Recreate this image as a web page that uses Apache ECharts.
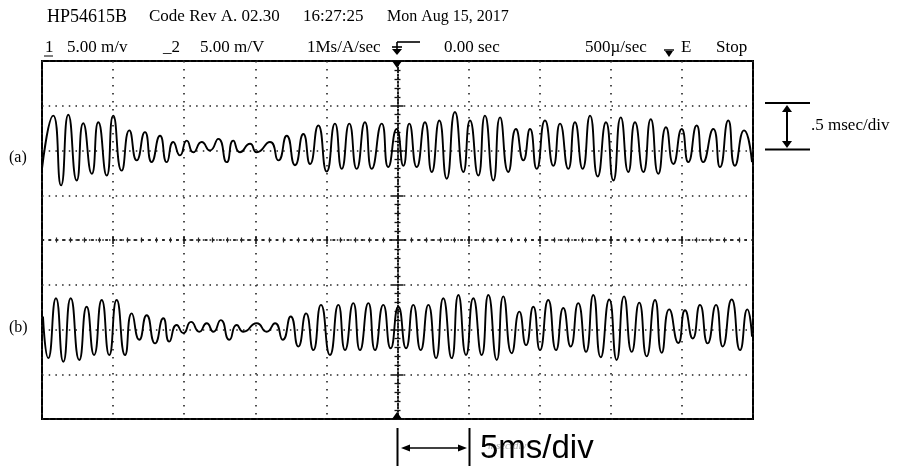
<!DOCTYPE html>
<html>
<head>
  <meta charset="UTF-8">
  <title>HP54615B</title>
  <style>
    body { margin: 0; padding: 0; background: #fff; }
    #scope { width: 899px; height: 466px; }
  </style>
</head>
<body>
  <div id="scope"></div>
  <script src="https://cdn.jsdelivr.net/npm/echarts@6/dist/echarts.min.js"></script>
  <script>
    // time in ms (500us/div, trigger at 0), value in divisions around each trace's centre
    var tA = [-2.5, -2.421, -2.366, -2.315, -2.256, -2.210, -2.150, -2.104, -2.045, -1.999,
      -1.940, -1.886, -1.834, -1.776, -1.729, -1.670, -1.623, -1.577, -1.530, -1.482,
      -1.436, -1.377, -1.319, -1.260, -1.201, -1.155, -1.108, -1.037, -0.990, -0.897,
      -0.838, -0.779, -0.721, -0.662, -0.615, -0.557, -0.498, -0.440, -0.392, -0.339,
      -0.287, -0.229, -0.181, -0.111, -0.065, -0.006, 0.041, 0.083, 0.135, 0.193,
      0.241, 0.294, 0.346, 0.404, 0.463, 0.510, 0.568, 0.615, 0.674, 0.721,
      0.779, 0.833, 0.885, 0.932, 0.979, 1.037, 1.096, 1.143, 1.201, 1.248,
      1.302, 1.354, 1.408, 1.466, 1.518, 1.570, 1.623, 1.670, 1.729, 1.781,
      1.834, 1.888, 1.940, 1.999, 2.045, 2.104, 2.150, 2.221, 2.268, 2.326,
      2.373, 2.437, 2.493];
    var vA = [-0.41, 0.78, -0.78, 0.80, -0.67, 0.61, -0.52, 0.63, -0.56, 0.78,
      -0.45, 0.45, -0.22, 0.41, -0.26, 0.33, -0.26, 0.19, -0.11, 0.22,
      -0.04, 0.19, 0, 0.26, -0.26, 0.22, -0.04, 0.15, -0.04, 0.19,
      -0.22, 0.33, -0.33, 0.37, -0.30, 0.56, -0.47, 0.60, -0.41, 0.60,
      -0.41, 0.63, -0.41, 0.60, -0.37, 0.48, -0.34, 0.60, -0.37, 0.63,
      -0.48, 0.67, -0.63, 0.86, -0.48, 0.67, -0.56, 0.78, -0.67, 0.74,
      -0.48, 0.48, -0.22, 0.48, -0.41, 0.67, -0.34, 0.60, -0.41, 0.63,
      -0.41, 0.78, -0.58, 0.63, -0.67, 0.74, -0.48, 0.63, -0.48, 0.70,
      -0.52, 0.52, -0.30, 0.48, -0.26, 0.56, -0.26, 0.48, -0.37, 0.67,
      -0.34, 0.45, -0.26];

    var tB = [-2.493, -2.456, -2.402, -2.350, -2.298, -2.238, -2.186, -2.134, -2.080, -2.027,
      -1.975, -1.916, -1.869, -1.816, -1.764, -1.705, -1.647, -1.605, -1.553, -1.506,
      -1.452, -1.394, -1.342, -1.295, -1.243, -1.183, -1.131, -1.084, -0.990, -0.920,
      -0.861, -0.807, -0.751, -0.698, -0.643, -0.592, -0.538, -0.475, -0.416, -0.369,
      -0.311, -0.264, -0.205, -0.158, -0.100, -0.048, 0.006, 0.060, 0.111, 0.163,
      0.217, 0.271, 0.322, 0.381, 0.428, 0.482, 0.533, 0.592, 0.639, 0.698,
      0.744, 0.803, 0.857, 0.904, 0.955, 1.002, 1.060, 1.115, 1.166, 1.218,
      1.271, 1.326, 1.377, 1.429, 1.489, 1.541, 1.593, 1.647, 1.700, 1.752,
      1.811, 1.858, 1.911, 1.975, 2.022, 2.076, 2.127, 2.181, 2.240, 2.287,
      2.350, 2.409, 2.460, 2.493];
    var vB = [0.29, -0.64, 0.70, -0.72, 0.70, -0.68, 0.51, -0.57, 0.66, -0.57,
      0.66, -0.57, 0.36, -0.23, 0.32, -0.31, 0.25, -0.27, 0.10, -0.08,
      0.17, -0.05, 0.14, -0.05, 0.21, -0.23, 0.10, -0.05, 0.14, -0.05,
      0.14, -0.23, 0.29, -0.38, 0.36, -0.46, 0.55, -0.57, 0.55, -0.46,
      0.59, -0.46, 0.59, -0.46, 0.55, -0.42, 0.51, -0.42, 0.55, -0.46,
      0.55, -0.64, 0.70, -0.64, 0.77, -0.57, 0.70, -0.57, 0.77, -0.68,
      0.74, -0.53, 0.40, -0.35, 0.51, -0.46, 0.66, -0.46, 0.48, -0.38,
      0.59, -0.50, 0.77, -0.62, 0.67, -0.68, 0.74, -0.50, 0.60, -0.60,
      0.66, -0.52, 0.45, -0.30, 0.43, -0.20, 0.55, -0.31, 0.55, -0.38,
      0.67, -0.46, 0.45, -0.16];

    var offsetA = 2, offsetB = -2;   // trace centres, in divisions from screen centre

    var chart = echarts.init(document.getElementById('scope'));

    function pairs(t, v, off) {
      return t.map(function (x, i) { return [x, v[i] + off]; });
    }

    var serif = '"Liberation Serif", "Times New Roman", serif';
    function txt(x, y, s, size, extra) {
      var st = { text: s, font: (size || 17) + 'px ' + serif, fill: '#000', verticalAlign: 'middle' };
      if (extra) for (var k in extra) st[k] = extra[k];
      return { type: 'text', x: x, y: y, style: st, z: 10 };
    }
    function seg(x1, y1, x2, y2, w) {
      return { type: 'line', shape: { x1: x1, y1: y1, x2: x2, y2: y2 }, style: { stroke: '#000', lineWidth: w || 1.5 }, z: 10 };
    }
    function tri(pts) {
      return { type: 'polygon', shape: { points: pts }, style: { fill: '#000' }, z: 10 };
    }

    var gridDots = { color: '#222', width: 1.6 };
    var xAxisBase = {
      type: 'value', min: -2.5, max: 2.5, interval: 0.5,
      axisLabel: { show: false }
    };
    var yAxisBase = {
      type: 'value', min: -4, max: 4, interval: 1,
      axisLabel: { show: false }
    };

    var option = {
      animation: false,
      grid: { left: 42, top: 61, width: 711, height: 358, show: true, borderColor: '#000', borderWidth: 2, backgroundColor: 'transparent' },
      xAxis: [
        Object.assign({}, xAxisBase, {
          position: 'bottom',
          axisLine: { onZero: true, onZeroAxisIndex: 0, lineStyle: { color: '#222', width: 1.5, type: [1.5, 5.6] } },
          axisTick: { show: true, length: 4, lineStyle: { color: '#111', width: 1.5 } },
          minorTick: { show: true, splitNumber: 5, length: 2.5, lineStyle: { color: '#222', width: 1.2 } },
          splitLine: { show: true, lineStyle: Object.assign({ type: [1.5, 6.5] }, gridDots) }
        }),
        Object.assign({}, xAxisBase, {
          position: 'bottom',
          axisLine: { onZero: true, onZeroAxisIndex: 0, lineStyle: { color: '#222', width: 1.5, type: [1.5, 5.6] } },
          axisTick: { show: true, inside: true, length: 4, lineStyle: { color: '#111', width: 1.5 } },
          minorTick: { show: true, splitNumber: 5, length: 2.5, lineStyle: { color: '#222', width: 1.2 } },
          splitLine: { show: false }
        })
      ],
      yAxis: [
        Object.assign({}, yAxisBase, {
          position: 'left',
          axisLine: { onZero: true, onZeroAxisIndex: 0, lineStyle: { color: '#111', width: 1.5, type: [1.5, 2] } },
          axisTick: { show: true, length: 6, lineStyle: { color: '#111', width: 1.5 } },
          minorTick: { show: true, splitNumber: 5, length: 3, lineStyle: { color: '#111', width: 1.3 } },
          splitLine: { show: true, lineStyle: Object.assign({ type: [1.5, 5.2] }, gridDots) }
        }),
        Object.assign({}, yAxisBase, {
          position: 'left',
          axisLine: { onZero: true, onZeroAxisIndex: 0, lineStyle: { color: '#111', width: 1.5, type: [1.5, 2] } },
          axisTick: { show: true, inside: true, length: 6, lineStyle: { color: '#111', width: 1.5 } },
          minorTick: { show: true, splitNumber: 5, length: 3, lineStyle: { color: '#111', width: 1.3 } },
          splitLine: { show: false }
        })
      ],
      series: [
        { name: '(a)', type: 'line', data: pairs(tA, vA, offsetA), smooth: 0.6, showSymbol: false,
          lineStyle: { color: '#000', width: 1.9 } },
        { name: '(b)', type: 'line', data: pairs(tB, vB, offsetB), smooth: 0.6, showSymbol: false,
          lineStyle: { color: '#000', width: 1.9 } }
      ],
      graphic: [
        // header lines
        txt(47, 17, 'HP54615B', 18),
        txt(149, 17, 'Code Rev A. 02.30'),
        txt(303, 17, '16:27:25'),
        txt(387, 17, 'Mon Aug 15, 2017', 16),
        txt(45, 48, '1'),
        seg(44, 56, 53, 56, 1),
        txt(67, 48, '5.00 m/v'),
        txt(163, 48, '_2'),
        txt(200, 48, '5.00 m/V'),
        txt(307, 48, '1Ms/A/sec'),
        txt(444, 48, '0.00 sec'),
        txt(585, 48, '500\u00b5/sec'),
        txt(681, 48, 'E'),
        txt(716, 48, 'Stop'),
        // trigger marker
        seg(397, 42, 420, 42, 1.6),
        seg(397, 42, 397, 50, 1.6),
        seg(392, 47, 402, 47, 1.6),
        tri([[392, 49], [402, 49], [397, 55]]),
        tri([[392, 61], [402, 61], [397, 68]]),
        tri([[392, 419], [402, 419], [397, 412]]),
        // slope marker near E
        seg(664, 50, 674, 50, 1.4),
        tri([[665, 51], [673, 51], [669, 57]]),
        // trace labels
        txt(9, 158, '(a)', 16),
        txt(9, 328, '(b)', 16),
        // right annotation
        seg(765, 103, 810, 103, 2),
        seg(765, 149.5, 810, 149.5, 2),
        seg(787, 110, 787, 143, 2),
        tri([[782, 112], [792, 112], [787, 105]]),
        tri([[782, 141], [792, 141], [787, 148]]),
        txt(811, 126, '.5 msec/div', 17),
        // bottom annotation
        seg(397.5, 428, 397.5, 466, 2),
        seg(469.5, 428, 469.5, 466, 2),
        seg(405, 448, 462, 448, 1.6),
        tri([[401, 448], [410, 444.5], [410, 451.5]]),
        tri([[467, 448], [458, 444.5], [458, 451.5]]),
        txt(488, 446, 'msec/div', 11, { fill: '#aaa', font: 'italic 11px ' + serif }),
        txt(480, 449, '5ms/div', 33, { font: '33px "Liberation Sans", Arial, sans-serif' })
      ]
    };

    chart.setOption(option);
  </script>
</body>
</html>
